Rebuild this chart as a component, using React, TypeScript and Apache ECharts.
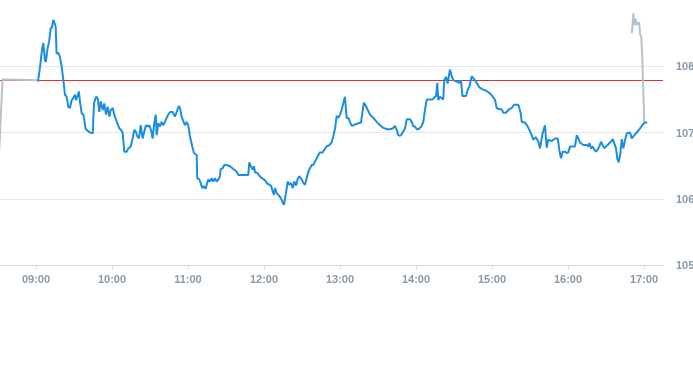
import React, { useEffect, useRef } from "react";
import * as echarts from "echarts";

// time in minutes since midnight, price
const sessionTimes: number[] = [
  541.6, 543.2, 545.0, 545.8, 547.1, 547.9, 548.9, 550.5, 551.8, 552.4, 553.7, 554.4, 555.6, 556.3, 557.6, 558.9, 560.3, 561.6, 562.9, 564.2,
  565.5, 566.8, 568.2, 569.4, 570.8, 571.6, 572.6, 573.9, 574.7, 576.1, 577.3, 578.1, 579.2, 580.0, 582.6, 584.8, 585.8, 587.4, 588.7, 590.0,
  591.1, 592.7, 593.9, 595.3, 596.6, 597.9, 599.0, 600.6, 601.8, 603.2, 604.5, 605.8, 607.1, 608.4, 609.7, 611.6, 612.9, 614.8, 616.3, 617.6,
  618.9, 620.0, 621.3, 622.7, 624.2, 625.5, 626.8, 628.2, 629.4, 630.8, 632.1, 633.4, 634.5, 635.3, 636.6, 637.9, 639.2, 640.5, 641.8, 643.2,
  644.4, 645.8, 647.9, 649.7, 651.1, 652.7, 653.7, 655.0, 656.3, 657.6, 659.0, 660.2, 661.6, 663.4, 664.7, 666.9, 667.3, 668.7, 670.0, 671.3,
  672.6, 674.0, 674.8, 676.0, 677.4, 678.7, 680.0, 681.3, 682.7, 683.9, 685.3, 685.8, 687.4, 688.7, 690.6, 693.2, 695.8, 698.4, 699.7, 707.6,
  708.4, 709.7, 711.1, 712.1, 712.9, 714.7, 716.3, 718.2, 720.8, 722.1, 724.2, 725.5, 726.9, 727.9, 728.7, 730.0, 731.3, 732.6, 734.0, 734.8,
  735.8, 737.4, 738.7, 740.0, 741.3, 742.7, 743.9, 745.3, 746.6, 747.9, 749.8, 751.0, 752.4, 753.7, 755.0, 756.3, 757.7, 758.9, 760.3, 761.6,
  762.9, 764.2, 766.3, 767.6, 769.5, 771.6, 773.4, 774.7, 776.1, 777.4, 778.7, 780.0, 781.3, 782.6, 783.9, 785.3, 786.6, 787.9, 789.2, 794.4,
  796.6, 797.6, 798.9, 800.5, 801.9, 803.7, 806.3, 809.0, 811.6, 814.2, 816.9, 819.5, 821.6, 823.4, 824.8, 826.0, 827.4, 828.7, 830.0, 831.3,
  832.7, 835.3, 836.6, 837.9, 839.2, 840.6, 841.8, 843.2, 844.5, 845.8, 847.1, 848.5, 853.2, 855.0, 855.8, 856.8, 857.6, 858.9, 861.5, 862.3,
  863.7, 865.0, 866.1, 866.8, 868.2, 869.4, 872.1, 874.2, 875.5, 876.7, 879.5, 880.8, 882.1, 884.0, 885.2, 887.9, 890.0, 892.6, 895.3, 898.4,
  900.6, 902.4, 903.7, 905.8, 907.7, 908.9, 911.1, 912.9, 915.6, 917.6, 920.8, 922.7, 923.5, 926.1, 927.9, 929.5, 931.3, 932.6, 934.7, 936.6,
  937.9, 940.0, 941.8, 943.2, 944.4, 947.1, 948.4, 949.7, 951.9, 953.1, 954.5, 955.8, 957.6, 959.0, 960.2, 961.6, 965.5, 966.9, 968.1, 969.5,
  972.1, 974.8, 976.0, 976.8, 978.2, 979.5, 980.8, 982.1, 983.4, 984.7, 986.1, 987.4, 988.7, 990.0, 991.3, 992.6, 993.9, 995.3, 996.5, 997.9,
  998.9, 1000.0, 1001.2, 1002.4, 1003.7, 1005.1, 1006.4, 1009.0, 1010.3, 1011.6, 1014.2, 1016.8, 1019.4, 1020.8, 1022.6,
];
const sessionPrices: number[] = [
  107.77, 107.99, 108.29, 108.35, 108.09, 108.07, 108.24, 108.39, 108.59, 108.57, 108.70, 108.67, 108.59, 108.19, 108.20, 108.14, 107.99, 107.79, 107.57, 107.54,
  107.39, 107.37, 107.49, 107.52, 107.57, 107.49, 107.54, 107.62, 107.47, 107.29, 107.27, 107.19, 107.06, 107.04, 107.00, 106.99, 107.44, 107.54, 107.52, 107.31,
  107.47, 107.34, 107.44, 107.27, 107.39, 107.24, 107.34, 107.37, 107.27, 107.19, 107.13, 107.06, 107.04, 107.00, 106.71, 106.71, 106.76, 106.79, 106.91, 107.04,
  107.01, 106.94, 106.91, 107.11, 106.91, 107.01, 107.11, 107.09, 107.11, 107.04, 106.91, 107.14, 107.27, 106.96, 107.14, 107.09, 107.16, 107.11, 107.16, 107.22,
  107.27, 107.31, 107.31, 107.24, 107.31, 107.40, 107.37, 107.24, 107.17, 107.11, 107.16, 107.11, 106.94, 106.79, 106.69, 106.66, 106.31, 106.30, 106.24, 106.16,
  106.19, 106.15, 106.21, 106.29, 106.26, 106.31, 106.26, 106.31, 106.26, 106.29, 106.34, 106.45, 106.46, 106.51, 106.51, 106.49, 106.45, 106.41, 106.36, 106.36,
  106.55, 106.49, 106.44, 106.49, 106.40, 106.39, 106.35, 106.31, 106.28, 106.24, 106.21, 106.20, 106.11, 106.06, 106.16, 106.09, 106.06, 106.03, 105.98, 105.94,
  105.91, 106.09, 106.26, 106.21, 106.24, 106.16, 106.26, 106.20, 106.30, 106.34, 106.29, 106.24, 106.21, 106.31, 106.41, 106.46, 106.51, 106.51, 106.56, 106.61,
  106.66, 106.70, 106.70, 106.74, 106.79, 106.81, 106.85, 106.94, 107.06, 107.25, 107.22, 107.27, 107.34, 107.44, 107.54, 107.22, 107.22, 107.16, 107.10, 107.14,
  107.15, 107.29, 107.45, 107.40, 107.34, 107.27, 107.22, 107.16, 107.11, 107.07, 107.05, 107.05, 107.06, 107.10, 107.04, 106.96, 106.95, 106.97, 107.02, 107.06,
  107.20, 107.20, 107.16, 107.09, 107.09, 107.05, 107.05, 107.07, 107.10, 107.16, 107.34, 107.50, 107.50, 107.54, 107.55, 107.75, 107.49, 107.54, 107.50, 107.79,
  107.84, 107.74, 107.87, 107.95, 107.85, 107.79, 107.77, 107.75, 107.79, 107.55, 107.55, 107.64, 107.69, 107.85, 107.82, 107.75, 107.68, 107.65, 107.63, 107.59,
  107.54, 107.49, 107.37, 107.35, 107.35, 107.30, 107.30, 107.34, 107.37, 107.42, 107.42, 107.29, 107.16, 107.15, 107.10, 107.04, 106.96, 106.89, 106.93, 106.86,
  106.76, 106.99, 107.11, 106.77, 106.89, 106.87, 106.89, 106.91, 106.91, 106.74, 106.61, 106.71, 106.71, 106.69, 106.70, 106.79, 106.79, 106.96, 106.91, 106.85,
  106.81, 106.81, 106.79, 106.84, 106.76, 106.79, 106.74, 106.71, 106.74, 106.79, 106.86, 106.81, 106.76, 106.79, 106.81, 106.84, 106.86, 106.90, 106.84, 106.76,
  106.61, 106.55, 106.66, 106.90, 106.76, 106.89, 106.99, 107.00, 106.91, 106.94, 107.00, 107.06, 107.13, 107.15, 107.15,
];

const preTimes: number[] = [510, 513.6, 541.6];
const prePrices: number[] = [106.35, 107.8, 107.79];

const postTimes: number[] = [1010.5, 1011.6, 1012.4, 1013.4, 1014.2, 1015.5, 1016.3, 1016.8, 1017.9, 1018.7, 1019.4, 1020.2, 1020.8];
const postPrices: number[] = [108.5, 108.8, 108.62, 108.72, 108.62, 108.66, 108.65, 108.5, 108.44, 108.09, 107.64, 107.16, 107.15];

const previousClose = 107.79;
const axisStart = 511.6;
const axisEnd = 1035;
const hourTicks: number[] = [540, 600, 660, 720, 780, 840, 900, 960, 1020];
const priceTicks: number[] = [105, 106, 107, 108];

const zip = (t: number[], v: number[]) => t.map((x, i) => [x, v[i]]);
const fmtTime = (m: number) => {
  const h = Math.floor(m / 60);
  const mm = Math.round(m - h * 60);
  return String(h).padStart(2, "0") + ":" + String(mm).padStart(2, "0");
};

export default function App() {
  const ref = useRef<HTMLDivElement>(null);
  useEffect(() => {
    if (!ref.current) return;
    const chart = echarts.init(ref.current, undefined, { renderer: "svg" });
    const labelStyle = {
      color: "#8a99a8",
      fontSize: 11,
      fontWeight: "bold" as const,
      fontFamily: "Liberation Sans, Arial, sans-serif",
    };
    chart.setOption({
      animation: false,
      grid: { left: 0, right: 30, top: 0, bottom: 100, containLabel: false, outerBoundsMode: "none" },
      xAxis: {
        type: "value",
        min: axisStart,
        max: axisEnd,
        splitLine: { show: false },
        axisLine: { show: true, lineStyle: { color: "#d3d9e0", width: 1 } },
        axisTick: { show: true, length: 4, customValues: hourTicks, lineStyle: { color: "#d3d9e0" } },
        axisLabel: {
          ...labelStyle,
          margin: 8,
          customValues: hourTicks,
          formatter: (v: number) => fmtTime(v),
        },
      },
      yAxis: {
        type: "value",
        position: "right",
        min: 105,
        max: 109,
        interval: 1,
        axisLine: { show: false },
        axisTick: { show: false },
        splitLine: { show: true, showMaxLine: false, lineStyle: { color: "#e3e7ec", width: 1 } },
        axisLabel: {
          ...labelStyle,
          margin: 13,
          customValues: priceTicks,
        },
      },
      series: [
        {
          type: "line",
          data: [],
          z: 1,
          silent: true,
          markLine: {
            z: 1,
            silent: true,
            symbol: "none",
            label: { show: false },
            lineStyle: { color: "#d8322c", width: 1, type: "solid" },
            data: [{ yAxis: previousClose }],
          },
        },
        {
          type: "line",
          data: zip(preTimes, prePrices),
          z: 3,
          showSymbol: false,
          symbol: "none",
          lineStyle: { color: "#b6c2cb", width: 2 },
          silent: true,
        },
        {
          type: "line",
          data: zip(postTimes, postPrices),
          z: 3,
          showSymbol: false,
          symbol: "none",
          lineStyle: { color: "#b6c2cb", width: 2 },
          silent: true,
        },
        {
          type: "line",
          data: zip(sessionTimes, sessionPrices),
          z: 4,
          showSymbol: false,
          symbol: "none",
          lineStyle: { color: "#1a8fe0", width: 2 },
          silent: true,
        },
      ],
    });
    return () => chart.dispose();
  }, []);
  return <div ref={ref} style={{ position: "fixed", left: 0, top: 0, width: 693, height: 365 }} />;
}
